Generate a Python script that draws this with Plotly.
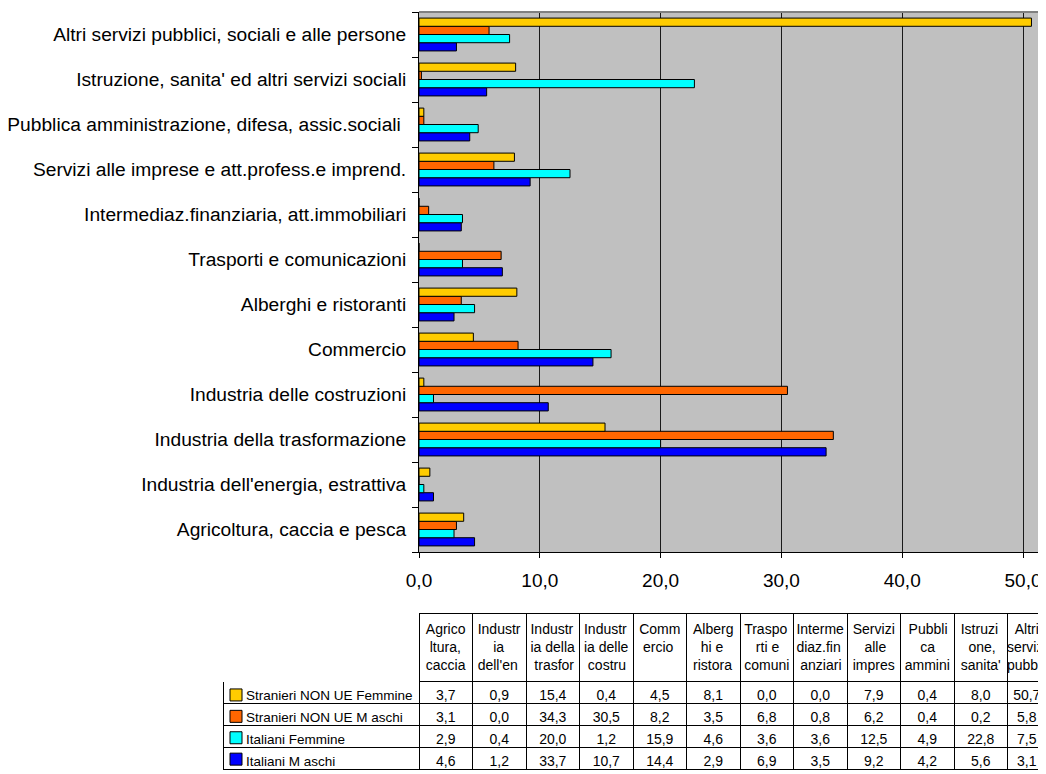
import plotly.graph_objects as go

# ---- data ----
categories = [
    "Agricoltura, caccia e pesca",
    "Industria dell'energia, estrattiva",
    "Industria della trasformazione",
    "Industria delle costruzioni",
    "Commercio",
    "Alberghi e ristoranti",
    "Trasporti e comunicazioni",
    "Intermediaz.finanziaria, att.immobiliari",
    "Servizi alle imprese e att.profess.e imprend.",
    "Pubblica amministrazione, difesa, assic.sociali\u00a0",
    "Istruzione, sanita' ed altri servizi sociali",
    "Altri servizi pubblici, sociali e alle persone",
]
table_headers = [
    ["Agrico", "ltura,", "caccia"], ["Industr", "ia", "dell'en"], ["Industr", "ia della", "trasfor"],
    ["Industr", "ia delle", "costru"], ["Comm", "ercio"], ["Alberg", "hi e", "ristora"],
    ["Traspo", "rti e", "comuni"], ["Interme", "diaz.fin", "anziari"], ["Servizi", "alle", "impres"],
    ["Pubbli", "ca", "ammini"], ["Istruzi", "one,", "sanita'"], ["Altri", "servizi", "pubbli"],
]
series_names = ["Stranieri NON UE Femmine", "Stranieri NON UE M aschi",
                "Italiani Femmine", "Italiani M aschi"]
stranieri_f = [3.7, 0.9, 15.4, 0.4, 4.5, 8.1, 0.0, 0.0, 7.9, 0.4, 8.0, 50.7]
stranieri_m = [3.1, 0.0, 34.3, 30.5, 8.2, 3.5, 6.8, 0.8, 6.2, 0.4, 0.2, 5.8]
italiani_f = [2.9, 0.4, 20.0, 1.2, 15.9, 4.6, 3.6, 3.6, 12.5, 4.9, 22.8, 7.5]
italiani_m = [4.6, 1.2, 33.7, 10.7, 14.4, 2.9, 6.9, 3.5, 9.2, 4.2, 5.6, 3.1]
series_values = [stranieri_f, stranieri_m, italiani_f, italiani_m]
series_colors = ["#FFCC00", "#FF6600", "#00FFFF", "#0000FF"]

# page is 1046x774; the html body has a default 8px margin, so the figure is sized to fill the rest
PAGE_W, PAGE_H = 1046, 774
OFF = 8
W, H = PAGE_W - OFF, PAGE_H - OFF
FONT = "Liberation Sans, Arial, sans-serif"
TABLE_FONT_SIZE = 14
NB = "\u00a0"


def px(x):   # page pixel -> paper x
    return (x - OFF) / W


def py(y):   # page pixel -> paper y
    return 1 - (y - OFF) / H


# approximate Arial advance widths (per 1000 em) used to centre each header line
_AW = {"a": 556, "b": 556, "c": 500, "d": 556, "e": 556, "f": 278, "g": 556, "h": 556,
       "i": 222, "l": 222, "m": 833, "n": 556, "o": 556, "p": 556, "r": 333, "s": 500,
       "t": 278, "u": 556, "v": 500, "z": 500, "A": 667, "C": 722, "I": 278, "P": 667,
       "S": 667, "T": 611, ",": 278, ".": 278, "'": 191, " ": 278}


def _w(s):
    return sum(_AW.get(ch, 556) for ch in s)


def centre_lines(lines):
    mw = max(_w(l) for l in lines)
    out = []
    for l in lines:
        n = int(round((mw - _w(l)) / 2 / 278))
        out.append(NB * n + l)
    return "<br>".join(out)


fig = go.Figure()

# bars: add bottom-most first so the top of each group is Stranieri NON UE Femmine
# legend keys (colour boxes only) sit in the table's label column
for k, (name, vals, col) in reversed(list(enumerate(zip(series_names, series_values, series_colors)))):
    fig.add_trace(go.Bar(
        y=categories, x=vals, name=NB, orientation="h",
        marker=dict(color=col, line=dict(color="black", width=1)),
        legendgroup=f"g{k}", legendrank=k + 1, showlegend=True,
        xaxis="x", yaxis="y",
        hovertemplate=name + ": %{x:.1f}<extra>%{y}</extra>",
    ))


def fmt(v):
    return f"{v:.1f}".replace(".", ",")


n_cols = len(table_headers)
label_cells = [NB * 4 + n.replace(" ", NB) for n in series_names]
columns = [label_cells] + [[fmt(series_values[s][i]) for s in range(len(series_names))]
                           for i in range(n_cols)]

col_w = 53.5
tbl_left = 223
label_w = 419 - tbl_left
last_w = PAGE_W - tbl_left - label_w - col_w * (n_cols - 1)

fig.add_trace(go.Table(
    domain=dict(x=[px(tbl_left), 1.0], y=[0.0, py(613)]),
    columnwidth=[label_w] + [col_w] * (n_cols - 1) + [last_w],
    header=dict(
        values=[""] + [centre_lines(h) for h in table_headers],
        height=67,
        align="center",
        font=dict(family=FONT, size=TABLE_FONT_SIZE, color="black"),
        fill_color="white",
        line=dict(color=["white"] + ["black"] * n_cols, width=1),
    ),
    cells=dict(
        values=columns,
        height=22,
        align=["left"] + ["center"] * n_cols,
        font=dict(family=FONT, size=[13.5] + [TABLE_FONT_SIZE] * n_cols, color="black"),
        fill_color="white",
        line=dict(color="black", width=1),
    ),
))

x0_px = 419
px_per_unit = (1023 - 419) / 50.0
xmax = (PAGE_W - x0_px) / px_per_unit

fig.update_layout(
    width=W, height=H,
    margin=dict(l=0, r=0, t=0, b=0, autoexpand=False),
    paper_bgcolor="white",
    plot_bgcolor="#C0C0C0",
    font=dict(family=FONT, color="black"),
    separators=",.",
    barmode="group",
    bargap=0.27,
    bargroupgap=0,
    showlegend=True,
    legend=dict(
        x=px(216), xanchor="left",
        y=py(680), yanchor="top",
        bgcolor="rgba(0,0,0,0)", borderwidth=0,
        traceorder="grouped", tracegroupgap=1.5,
        font=dict(family=FONT, size=13, color="black"),
        itemwidth=30, itemclick=False, itemdoubleclick=False,
    ),
    xaxis=dict(
        domain=[px(x0_px), 1.0],
        range=[0, xmax],
        dtick=10, tick0=0,
        tickformat=".1f",
        showgrid=True, gridcolor="#1a1a1a", gridwidth=1,
        zeroline=False,
        showline=True, linecolor="black", linewidth=1,
        ticks="outside", ticklen=5, tickcolor="black",
        tickfont=dict(size=19, family=FONT, color="black"),
        ticklabelstandoff=6,
        automargin=False, fixedrange=True,
    ),
    yaxis=dict(
        domain=[py(552), py(12)],
        type="category",
        categoryorder="array", categoryarray=categories,
        tickson="boundaries",
        ticks="outside", ticklen=6, tickcolor="black",
        showline=True, linecolor="black", linewidth=1,
        showgrid=False, zeroline=False,
        tickfont=dict(size=19.2, family=FONT, color="black"),
        ticklabelstandoff=8,
        automargin=False, fixedrange=True,
    ),
    shapes=[dict(type="line", xref="paper", yref="paper",
                 x0=px(x0_px), x1=1.0, y0=py(12), y1=py(12),
                 line=dict(color="#808080", width=2))],
)

fig.write_html("out.html")
